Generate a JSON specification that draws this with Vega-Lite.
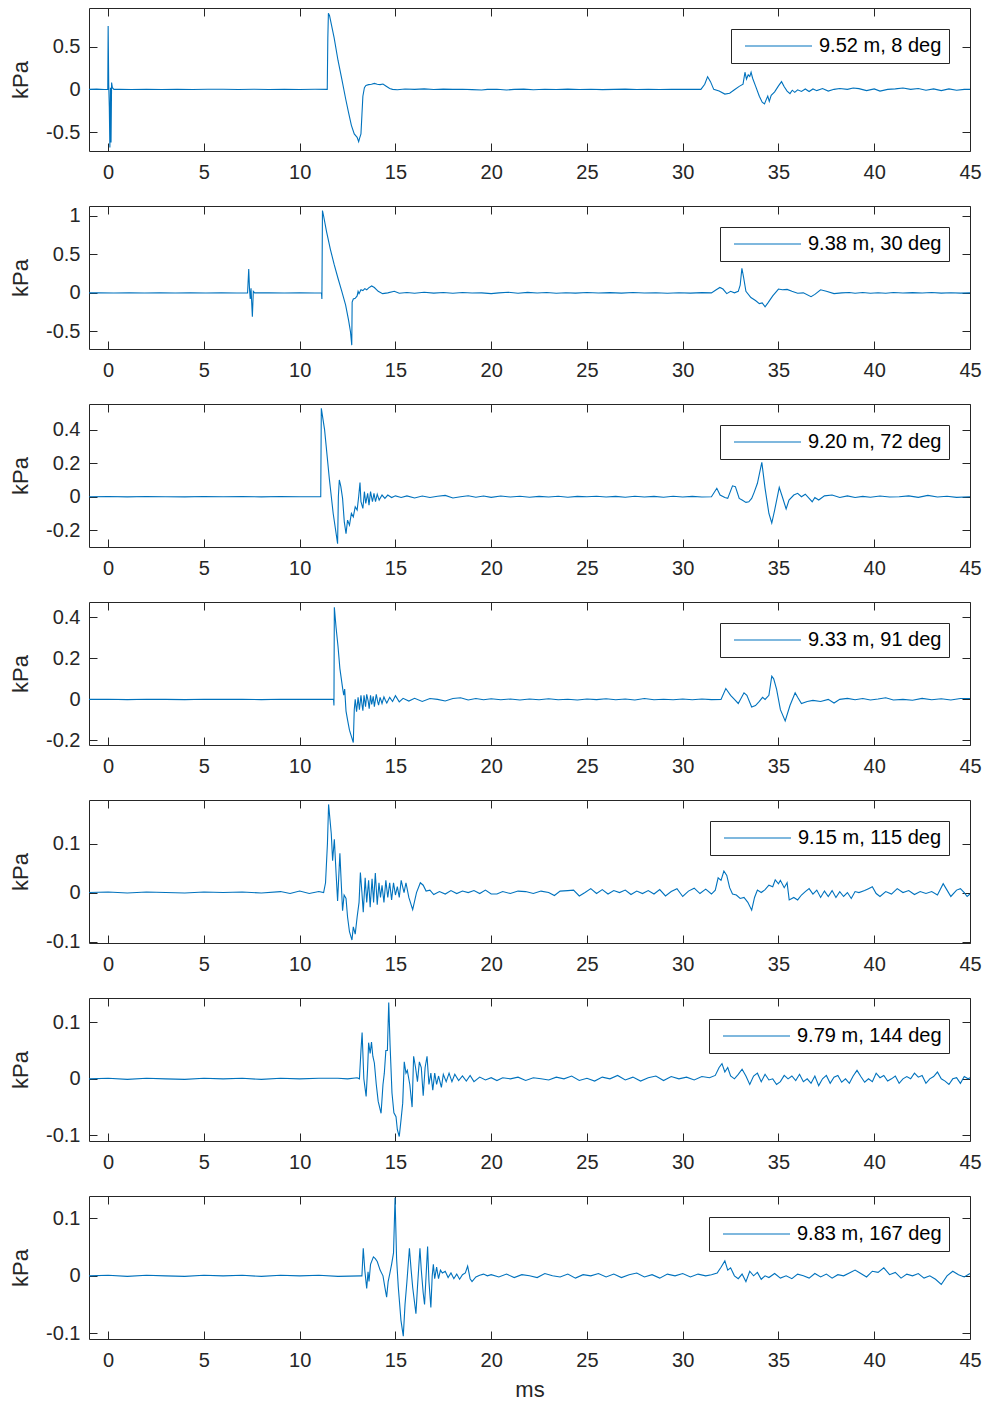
{
  "$schema": "https://vega.github.io/schema/vega-lite/v6.json",
  "padding": {"left": 9, "top": 7, "right": 4, "bottom": 4},
  "spacing": 55,
  "bounds": "flush",
  "config": {
    "font": "Liberation Sans",
    "view": {"stroke": "#262626", "strokeWidth": 1},
    "axis": {
      "domain": false, "grid": false, "labelFlush": false,
      "tickColor": "#262626", "tickSize": -8, "tickWidth": 1,
      "labelFont": "Liberation Sans", "labelFontSize": 20, "labelColor": "#262626",
      "titleFont": "Liberation Sans", "titleFontSize": 22, "titleFontWeight": "normal", "titleColor": "#262626",
      "labelExpr": "replace(format(datum.value, '~g'), '\u2212', '-')"
    },
    "axisX": {"labelPadding": 19, "titlePadding": 9},
    "axisY": {"labelPadding": 17, "titlePadding": 13},
    "legend": {
      "orient": "top-right", "offset": 21, "padding": 7,
      "strokeColor": "#262626", "fillColor": "white", "cornerRadius": 0,
      "symbolType": "stroke", "symbolSize": 4489, "symbolStrokeWidth": 1.5, "symbolStrokeColor": "#0072BD",
      "clipHeight": 20, "symbolOffset": 6, "labelOffset": 6,
      "labelFont": "Liberation Sans", "labelFontSize": 20, "labelColor": "#000000"
    },
    "line": {"strokeWidth": 1.1, "clip": true}
  },
  "resolve": {"scale": {"color": "independent"}, "legend": {"color": "independent"}},
  "datasets": {
    "s1": [
      {"t":-1,"p":0},{"t":-0.6,"p":0.003},{"t":-0.2,"p":-0.002},{"t":-0.02,"p":0},{"t":0.0,"p":0.74},{"t":0.03,"p":0.05},{"t":0.06,"p":-0.2},{"t":0.09,"p":-0.68},{"t":0.12,"p":0.02},{"t":0.15,"p":-0.62},{"t":0.18,"p":0.08},{"t":0.22,"p":0.02},{"t":0.3,"p":0},{"t":0.6,"p":0.002},{"t":1.2,"p":-0.002},{"t":2,"p":0.002},{"t":2.8,"p":-0.001},{"t":3.6,"p":0.002},{"t":4.4,"p":-0.002},{"t":5.2,"p":0.001},{"t":6,"p":0.002},{"t":6.8,"p":-0.002},{"t":7.6,"p":0.001},{"t":8.4,"p":-0.001},{"t":9.2,"p":0.002},{"t":10,"p":-0.001},{"t":10.8,"p":0.001},{"t":11.44,"p":0},{"t":11.47,"p":0.6},{"t":11.5,"p":0.89},{"t":11.56,"p":0.86},{"t":11.8,"p":0.6},{"t":12.0,"p":0.34},{"t":12.2,"p":0.12},{"t":12.4,"p":-0.11},{"t":12.55,"p":-0.27},{"t":12.7,"p":-0.42},{"t":12.85,"p":-0.52},{"t":13.0,"p":-0.56},{"t":13.08,"p":-0.61},{"t":13.13,"p":-0.57},{"t":13.2,"p":-0.52},{"t":13.25,"p":-0.3},{"t":13.3,"p":-0.08},{"t":13.38,"p":0.02},{"t":13.46,"p":0.045},{"t":13.6,"p":0.055},{"t":13.75,"p":0.06},{"t":13.9,"p":0.07},{"t":14.05,"p":0.06},{"t":14.2,"p":0.055},{"t":14.35,"p":0.062},{"t":14.5,"p":0.04},{"t":14.7,"p":0.01},{"t":14.85,"p":0},{"t":15.1,"p":-0.005},{"t":15.5,"p":0.004},{"t":16,"p":0},{"t":16.5,"p":0.005},{"t":17,"p":-0.002},{"t":17.5,"p":0.003},{"t":18,"p":0},{"t":18.5,"p":0.002},{"t":19,"p":-0.003},{"t":19.5,"p":-0.008},{"t":19.8,"p":0},{"t":20.3,"p":0.002},{"t":20.8,"p":-0.008},{"t":21.2,"p":0},{"t":21.7,"p":0.003},{"t":22.2,"p":-0.004},{"t":22.8,"p":0.002},{"t":23.4,"p":-0.002},{"t":24,"p":0.003},{"t":24.6,"p":-0.001},{"t":25.2,"p":0.002},{"t":25.8,"p":-0.003},{"t":26.4,"p":0},{"t":27,"p":0.003},{"t":27.6,"p":-0.002},{"t":28.2,"p":0.002},{"t":28.8,"p":-0.001},{"t":29.4,"p":0.002},{"t":30,"p":0},{"t":30.6,"p":0.002},{"t":30.95,"p":0},{"t":31.15,"p":0.06},{"t":31.3,"p":0.148},{"t":31.45,"p":0.09},{"t":31.62,"p":0},{"t":31.9,"p":-0.02},{"t":32.2,"p":-0.055},{"t":32.45,"p":-0.045},{"t":32.7,"p":-0.005},{"t":32.95,"p":0.035},{"t":33.15,"p":0.06},{"t":33.25,"p":0.2},{"t":33.33,"p":0.12},{"t":33.42,"p":0.17},{"t":33.5,"p":0.15},{"t":33.57,"p":0.2},{"t":33.65,"p":0.13},{"t":33.8,"p":0.04},{"t":34.0,"p":-0.08},{"t":34.15,"p":-0.15},{"t":34.27,"p":-0.17},{"t":34.36,"p":-0.12},{"t":34.44,"p":-0.08},{"t":34.52,"p":-0.14},{"t":34.62,"p":-0.07},{"t":34.8,"p":-0.03},{"t":35.0,"p":0.04},{"t":35.16,"p":0.09},{"t":35.3,"p":0.03},{"t":35.45,"p":-0.02},{"t":35.6,"p":-0.05},{"t":35.72,"p":-0.01},{"t":35.85,"p":-0.035},{"t":36.0,"p":-0.005},{"t":36.2,"p":-0.025},{"t":36.4,"p":0.005},{"t":36.6,"p":-0.025},{"t":36.8,"p":0.005},{"t":37.0,"p":-0.015},{"t":37.3,"p":0.01},{"t":37.6,"p":-0.02},{"t":37.9,"p":0},{"t":38.2,"p":0.01},{"t":38.6,"p":0},{"t":38.9,"p":0.015},{"t":39.2,"p":0.008},{"t":39.6,"p":-0.015},{"t":40.0,"p":0.005},{"t":40.3,"p":-0.02},{"t":40.7,"p":0},{"t":41.1,"p":0.005},{"t":41.5,"p":0.015},{"t":41.9,"p":0},{"t":42.3,"p":0.01},{"t":42.7,"p":-0.01},{"t":43.1,"p":0.005},{"t":43.5,"p":-0.015},{"t":43.9,"p":0.005},{"t":44.3,"p":-0.01},{"t":44.7,"p":0},{"t":45,"p":0}
    ],
    "s2": [
      {"t":-1,"p":0},{"t":-0.5,"p":0.002},{"t":0.3,"p":-0.002},{"t":1.1,"p":0.001},{"t":1.9,"p":-0.001},{"t":2.7,"p":0.002},{"t":3.5,"p":-0.002},{"t":4.3,"p":0.001},{"t":5.1,"p":-0.001},{"t":5.9,"p":0.002},{"t":6.7,"p":-0.001},{"t":7.28,"p":0},{"t":7.34,"p":0.31},{"t":7.38,"p":0.05},{"t":7.42,"p":-0.08},{"t":7.46,"p":0.06},{"t":7.53,"p":-0.31},{"t":7.58,"p":0.02},{"t":7.65,"p":0},{"t":8.4,"p":0.002},{"t":9.2,"p":-0.002},{"t":10,"p":0.001},{"t":10.8,"p":-0.001},{"t":11.14,"p":0},{"t":11.16,"p":-0.08},{"t":11.19,"p":1.07},{"t":11.25,"p":1.0},{"t":11.4,"p":0.8},{"t":11.6,"p":0.57},{"t":11.8,"p":0.37},{"t":12.0,"p":0.19},{"t":12.2,"p":0.02},{"t":12.4,"p":-0.16},{"t":12.55,"p":-0.35},{"t":12.65,"p":-0.5},{"t":12.72,"p":-0.68},{"t":12.74,"p":-0.12},{"t":12.8,"p":-0.08},{"t":12.9,"p":-0.07},{"t":13.0,"p":-0.04},{"t":13.05,"p":0.02},{"t":13.1,"p":-0.01},{"t":13.2,"p":0.04},{"t":13.3,"p":0.03},{"t":13.4,"p":0.055},{"t":13.5,"p":0.04},{"t":13.6,"p":0.065},{"t":13.76,"p":0.09},{"t":13.9,"p":0.07},{"t":14.1,"p":0.02},{"t":14.33,"p":-0.01},{"t":14.6,"p":0},{"t":14.94,"p":0.02},{"t":15.2,"p":-0.005},{"t":15.6,"p":0.005},{"t":16,"p":-0.005},{"t":16.5,"p":0.008},{"t":17,"p":-0.003},{"t":17.5,"p":0.005},{"t":18,"p":-0.005},{"t":18.5,"p":0.004},{"t":19,"p":-0.002},{"t":19.5,"p":0},{"t":20,"p":-0.01},{"t":20.4,"p":0},{"t":20.9,"p":0.008},{"t":21.4,"p":-0.004},{"t":21.9,"p":0.006},{"t":22.4,"p":-0.002},{"t":22.9,"p":0.004},{"t":23.4,"p":-0.004},{"t":23.9,"p":0.002},{"t":24.4,"p":-0.003},{"t":25,"p":0.004},{"t":25.6,"p":-0.002},{"t":26.2,"p":0.003},{"t":26.8,"p":-0.003},{"t":27.4,"p":0.004},{"t":28,"p":-0.002},{"t":28.6,"p":0.002},{"t":29.2,"p":-0.004},{"t":29.8,"p":0.002},{"t":30.4,"p":-0.003},{"t":31,"p":0.003},{"t":31.5,"p":0},{"t":31.75,"p":0.04},{"t":31.94,"p":0.07},{"t":32.1,"p":0.05},{"t":32.3,"p":-0.01},{"t":32.5,"p":0.02},{"t":32.7,"p":0},{"t":32.9,"p":0.02},{"t":33.0,"p":0.1},{"t":33.09,"p":0.32},{"t":33.18,"p":0.2},{"t":33.3,"p":0.02},{"t":33.56,"p":-0.06},{"t":33.8,"p":-0.1},{"t":34.0,"p":-0.14},{"t":34.15,"p":-0.13},{"t":34.3,"p":-0.18},{"t":34.45,"p":-0.13},{"t":34.7,"p":-0.04},{"t":35.0,"p":0.05},{"t":35.2,"p":0.04},{"t":35.45,"p":0.045},{"t":35.7,"p":0.02},{"t":36.0,"p":-0.005},{"t":36.3,"p":0},{"t":36.7,"p":-0.05},{"t":36.9,"p":-0.02},{"t":37.2,"p":0.04},{"t":37.5,"p":0.02},{"t":37.9,"p":-0.01},{"t":38.3,"p":0},{"t":38.7,"p":0.005},{"t":39.0,"p":-0.005},{"t":39.4,"p":0.005},{"t":39.8,"p":-0.005},{"t":40.2,"p":0.002},{"t":40.6,"p":-0.004},{"t":41.0,"p":0.005},{"t":41.5,"p":-0.002},{"t":42.0,"p":0.003},{"t":42.5,"p":-0.002},{"t":43.0,"p":0.005},{"t":43.5,"p":-0.003},{"t":44.0,"p":0.002},{"t":44.5,"p":-0.003},{"t":45,"p":0}
    ],
    "s3": [
      {"t":-1,"p":0},{"t":0,"p":0.001},{"t":1,"p":-0.001},{"t":2,"p":0.001},{"t":3,"p":0},{"t":4,"p":-0.001},{"t":5,"p":0.001},{"t":6,"p":0},{"t":7,"p":0.001},{"t":8,"p":-0.001},{"t":9,"p":0.001},{"t":10,"p":0},{"t":11.1,"p":0},{"t":11.13,"p":0.527},{"t":11.3,"p":0.4},{"t":11.55,"p":0.106},{"t":11.75,"p":-0.1},{"t":11.98,"p":-0.28},{"t":12.02,"p":0},{"t":12.07,"p":0.1},{"t":12.15,"p":0.06},{"t":12.24,"p":-0.01},{"t":12.33,"p":-0.15},{"t":12.42,"p":-0.22},{"t":12.5,"p":-0.14},{"t":12.6,"p":-0.17},{"t":12.7,"p":-0.1},{"t":12.8,"p":-0.12},{"t":12.9,"p":-0.06},{"t":13.0,"p":-0.08},{"t":13.08,"p":0},{"t":13.15,"p":0.085},{"t":13.2,"p":-0.03},{"t":13.3,"p":-0.07},{"t":13.38,"p":0.03},{"t":13.45,"p":-0.04},{"t":13.55,"p":0.02},{"t":13.62,"p":-0.05},{"t":13.7,"p":0.03},{"t":13.8,"p":-0.03},{"t":13.88,"p":0.02},{"t":13.96,"p":-0.03},{"t":14.05,"p":0.015},{"t":14.15,"p":-0.02},{"t":14.3,"p":0.01},{"t":14.45,"p":-0.01},{"t":14.6,"p":0.01},{"t":14.8,"p":-0.005},{"t":15.0,"p":0.005},{"t":15.3,"p":-0.005},{"t":15.6,"p":0.005},{"t":16,"p":-0.008},{"t":16.4,"p":0.004},{"t":16.8,"p":-0.005},{"t":17.2,"p":0.003},{"t":17.6,"p":0.008},{"t":18,"p":-0.008},{"t":18.4,"p":0},{"t":18.8,"p":0.006},{"t":19.2,"p":-0.003},{"t":19.6,"p":0.004},{"t":20,"p":-0.004},{"t":20.5,"p":0.004},{"t":21,"p":-0.002},{"t":21.5,"p":0.003},{"t":22,"p":-0.003},{"t":22.5,"p":0.002},{"t":23,"p":-0.002},{"t":23.5,"p":0.003},{"t":24,"p":-0.003},{"t":24.5,"p":0.002},{"t":25,"p":0},{"t":25.5,"p":0.003},{"t":26,"p":-0.002},{"t":26.5,"p":0.002},{"t":27,"p":-0.003},{"t":27.5,"p":0.003},{"t":28,"p":-0.002},{"t":28.5,"p":0.002},{"t":29,"p":-0.003},{"t":29.5,"p":0.003},{"t":30,"p":-0.002},{"t":30.5,"p":0.002},{"t":31,"p":-0.002},{"t":31.5,"p":0},{"t":31.78,"p":0.05},{"t":31.95,"p":0.01},{"t":32.2,"p":-0.005},{"t":32.35,"p":-0.01},{"t":32.6,"p":0.065},{"t":32.75,"p":0.06},{"t":32.95,"p":-0.01},{"t":33.1,"p":-0.02},{"t":33.3,"p":-0.034},{"t":33.45,"p":-0.03},{"t":33.6,"p":-0.01},{"t":33.73,"p":0.026},{"t":33.9,"p":0.08},{"t":34.13,"p":0.205},{"t":34.3,"p":0.05},{"t":34.5,"p":-0.1},{"t":34.65,"p":-0.157},{"t":34.8,"p":-0.08},{"t":35.04,"p":0.056},{"t":35.2,"p":0},{"t":35.4,"p":-0.073},{"t":35.55,"p":-0.02},{"t":35.8,"p":0.01},{"t":36.0,"p":0.02},{"t":36.2,"p":0},{"t":36.4,"p":0.015},{"t":36.6,"p":-0.01},{"t":36.76,"p":-0.03},{"t":36.9,"p":-0.005},{"t":37.1,"p":-0.02},{"t":37.4,"p":0.005},{"t":37.8,"p":0.01},{"t":38.2,"p":-0.005},{"t":38.6,"p":0.005},{"t":39.0,"p":-0.005},{"t":39.4,"p":0.002},{"t":39.8,"p":-0.003},{"t":40.3,"p":0.004},{"t":40.8,"p":-0.002},{"t":41.3,"p":0},{"t":41.8,"p":0.005},{"t":42.3,"p":-0.004},{"t":42.8,"p":0.008},{"t":43.3,"p":-0.002},{"t":43.8,"p":0.003},{"t":44.3,"p":-0.004},{"t":45,"p":0}
    ],
    "s4": [
      {"t":-1,"p":0},{"t":0,"p":0.001},{"t":1,"p":-0.001},{"t":2,"p":0.001},{"t":3,"p":0},{"t":4,"p":-0.001},{"t":5,"p":0.001},{"t":6,"p":0},{"t":7,"p":0.001},{"t":8,"p":-0.001},{"t":9,"p":0.001},{"t":10,"p":0},{"t":11,"p":0.001},{"t":11.77,"p":0},{"t":11.79,"p":-0.03},{"t":11.81,"p":0.448},{"t":11.9,"p":0.35},{"t":12.0,"p":0.26},{"t":12.1,"p":0.15},{"t":12.24,"p":0.056},{"t":12.3,"p":0.02},{"t":12.35,"p":0.05},{"t":12.42,"p":-0.057},{"t":12.5,"p":-0.1},{"t":12.6,"p":-0.15},{"t":12.7,"p":-0.18},{"t":12.8,"p":-0.21},{"t":12.85,"p":-0.05},{"t":12.9,"p":0},{"t":12.97,"p":-0.06},{"t":13.05,"p":0.01},{"t":13.12,"p":-0.05},{"t":13.2,"p":0.02},{"t":13.26,"p":-0.03},{"t":13.3,"p":-0.055},{"t":13.36,"p":0.02},{"t":13.44,"p":-0.035},{"t":13.5,"p":0.025},{"t":13.58,"p":-0.01},{"t":13.63,"p":-0.045},{"t":13.7,"p":0.02},{"t":13.76,"p":-0.025},{"t":13.84,"p":0.015},{"t":13.9,"p":-0.035},{"t":14.0,"p":0.025},{"t":14.07,"p":-0.01},{"t":14.12,"p":-0.028},{"t":14.2,"p":0.01},{"t":14.3,"p":-0.02},{"t":14.4,"p":0.012},{"t":14.48,"p":-0.005},{"t":14.55,"p":-0.018},{"t":14.7,"p":0.01},{"t":14.85,"p":-0.01},{"t":15.0,"p":0.018},{"t":15.2,"p":-0.012},{"t":15.4,"p":0.005},{"t":15.7,"p":-0.008},{"t":16,"p":0.005},{"t":16.4,"p":-0.01},{"t":16.8,"p":0.004},{"t":17.2,"p":0},{"t":17.6,"p":-0.008},{"t":18,"p":0.004},{"t":18.4,"p":0.008},{"t":18.8,"p":-0.003},{"t":19.2,"p":0.004},{"t":19.6,"p":-0.002},{"t":20,"p":0.003},{"t":20.5,"p":-0.002},{"t":21,"p":0.002},{"t":21.5,"p":-0.003},{"t":22,"p":0.002},{"t":22.5,"p":-0.002},{"t":23,"p":0.003},{"t":23.5,"p":-0.002},{"t":24,"p":0.001},{"t":24.5,"p":-0.003},{"t":25,"p":0.002},{"t":25.5,"p":-0.001},{"t":26,"p":0.003},{"t":26.5,"p":-0.002},{"t":27,"p":0.002},{"t":27.5,"p":-0.003},{"t":28,"p":0.004},{"t":28.5,"p":-0.002},{"t":29,"p":0.001},{"t":29.5,"p":-0.002},{"t":30,"p":0.002},{"t":30.5,"p":-0.002},{"t":31,"p":0.002},{"t":31.5,"p":-0.001},{"t":32.0,"p":0},{"t":32.25,"p":0.053},{"t":32.5,"p":0.02},{"t":32.7,"p":0},{"t":32.9,"p":-0.02},{"t":33.2,"p":0.032},{"t":33.35,"p":0.02},{"t":33.6,"p":-0.037},{"t":33.8,"p":-0.03},{"t":34.0,"p":-0.01},{"t":34.17,"p":0.01},{"t":34.3,"p":0},{"t":34.5,"p":0.02},{"t":34.65,"p":0.113},{"t":34.75,"p":0.1},{"t":34.9,"p":0.05},{"t":35.1,"p":-0.05},{"t":35.35,"p":-0.105},{"t":35.6,"p":-0.03},{"t":35.87,"p":0.032},{"t":36.0,"p":0.01},{"t":36.2,"p":-0.02},{"t":36.5,"p":-0.01},{"t":36.8,"p":-0.005},{"t":37.2,"p":-0.01},{"t":37.6,"p":0},{"t":37.9,"p":-0.018},{"t":38.2,"p":0},{"t":38.6,"p":0.005},{"t":39,"p":-0.002},{"t":39.4,"p":0.004},{"t":39.8,"p":-0.003},{"t":40.2,"p":0.002},{"t":40.6,"p":0.008},{"t":41,"p":-0.003},{"t":41.5,"p":0},{"t":42,"p":-0.004},{"t":42.5,"p":0.005},{"t":43,"p":-0.002},{"t":43.5,"p":0.003},{"t":44,"p":-0.003},{"t":44.5,"p":0.004},{"t":45,"p":0.004}
    ],
    "s5": [
      {"t":-1,"p":0},{"t":0,"p":0.001},{"t":1,"p":-0.001},{"t":2,"p":0.001},{"t":3,"p":0},{"t":4,"p":-0.001},{"t":5,"p":0.001},{"t":6,"p":0},{"t":7,"p":0.001},{"t":8,"p":-0.001},{"t":9,"p":0.002},{"t":9.5,"p":-0.002},{"t":10,"p":0.003},{"t":10.5,"p":-0.002},{"t":11.0,"p":0.002},{"t":11.25,"p":0},{"t":11.35,"p":0.02},{"t":11.45,"p":0.1},{"t":11.51,"p":0.18},{"t":11.58,"p":0.15},{"t":11.65,"p":0.12},{"t":11.72,"p":0.065},{"t":11.81,"p":0.109},{"t":11.9,"p":0.04},{"t":11.98,"p":-0.017},{"t":12.05,"p":0.04},{"t":12.1,"p":0.08},{"t":12.17,"p":0.02},{"t":12.24,"p":-0.037},{"t":12.32,"p":-0.005},{"t":12.42,"p":-0.012},{"t":12.5,"p":-0.05},{"t":12.6,"p":-0.08},{"t":12.73,"p":-0.097},{"t":12.8,"p":-0.07},{"t":12.9,"p":-0.085},{"t":13.0,"p":-0.05},{"t":13.1,"p":-0.02},{"t":13.17,"p":0.041},{"t":13.25,"p":0},{"t":13.32,"p":-0.04},{"t":13.42,"p":0.03},{"t":13.5,"p":-0.02},{"t":13.6,"p":0.025},{"t":13.68,"p":-0.03},{"t":13.78,"p":0.028},{"t":13.86,"p":-0.02},{"t":13.95,"p":0.04},{"t":14.05,"p":-0.025},{"t":14.14,"p":0.02},{"t":14.22,"p":-0.01},{"t":14.3,"p":0.015},{"t":14.4,"p":-0.02},{"t":14.5,"p":0.025},{"t":14.6,"p":-0.01},{"t":14.7,"p":0.02},{"t":14.8,"p":-0.015},{"t":14.9,"p":0.02},{"t":15.0,"p":-0.005},{"t":15.1,"p":0.012},{"t":15.2,"p":-0.01},{"t":15.3,"p":0.025},{"t":15.45,"p":0},{"t":15.55,"p":0.02},{"t":15.7,"p":-0.01},{"t":15.9,"p":-0.035},{"t":16.1,"p":0},{"t":16.3,"p":0.02},{"t":16.45,"p":0.015},{"t":16.6,"p":0.003},{"t":16.8,"p":0.005},{"t":17.0,"p":-0.004},{"t":17.3,"p":0.002},{"t":17.6,"p":-0.003},{"t":17.9,"p":0.004},{"t":18.2,"p":-0.002},{"t":18.5,"p":0.003},{"t":18.8,"p":0},{"t":19.1,"p":0.004},{"t":19.4,"p":-0.002},{"t":19.7,"p":0.005},{"t":20.0,"p":-0.003},{"t":20.3,"p":-0.003},{"t":20.6,"p":0.002},{"t":21.0,"p":-0.002},{"t":21.4,"p":0.003},{"t":21.8,"p":0.002},{"t":22.2,"p":-0.002},{"t":22.6,"p":0.003},{"t":23.0,"p":0},{"t":23.3,"p":-0.006},{"t":23.6,"p":0.003},{"t":24.0,"p":0.004},{"t":24.3,"p":0.005},{"t":24.6,"p":-0.007},{"t":24.9,"p":0},{"t":25.2,"p":0.008},{"t":25.5,"p":-0.002},{"t":25.8,"p":0.006},{"t":26.1,"p":-0.003},{"t":26.4,"p":0.004},{"t":26.7,"p":0},{"t":27.0,"p":0.005},{"t":27.3,"p":-0.004},{"t":27.6,"p":0.003},{"t":27.9,"p":-0.002},{"t":28.2,"p":0.004},{"t":28.5,"p":-0.003},{"t":28.8,"p":0.006},{"t":29.1,"p":-0.007},{"t":29.4,"p":0.002},{"t":29.7,"p":0.008},{"t":30.0,"p":-0.008},{"t":30.3,"p":0.003},{"t":30.6,"p":0.009},{"t":30.9,"p":-0.002},{"t":31.2,"p":0.007},{"t":31.5,"p":-0.003},{"t":31.7,"p":0.005},{"t":31.85,"p":0.03},{"t":32.0,"p":0.025},{"t":32.15,"p":0.044},{"t":32.3,"p":0.035},{"t":32.45,"p":0.01},{"t":32.6,"p":-0.003},{"t":32.8,"p":-0.005},{"t":33.0,"p":-0.012},{"t":33.2,"p":-0.01},{"t":33.4,"p":-0.02},{"t":33.6,"p":-0.036},{"t":33.75,"p":-0.01},{"t":33.9,"p":0.005},{"t":34.1,"p":0},{"t":34.3,"p":0.006},{"t":34.5,"p":0.015},{"t":34.7,"p":0.012},{"t":34.83,"p":0.026},{"t":35.0,"p":0.018},{"t":35.1,"p":0.025},{"t":35.3,"p":0.01},{"t":35.45,"p":0.02},{"t":35.56,"p":-0.015},{"t":35.8,"p":-0.01},{"t":36.0,"p":-0.015},{"t":36.2,"p":-0.005},{"t":36.4,"p":0.002},{"t":36.6,"p":0.008},{"t":36.8,"p":-0.003},{"t":37.0,"p":0.005},{"t":37.2,"p":-0.01},{"t":37.4,"p":0.003},{"t":37.6,"p":-0.008},{"t":37.8,"p":0.004},{"t":38.0,"p":-0.01},{"t":38.2,"p":0.002},{"t":38.4,"p":-0.008},{"t":38.6,"p":0},{"t":38.8,"p":-0.012},{"t":39.0,"p":0.002},{"t":39.2,"p":0},{"t":39.5,"p":0.004},{"t":39.7,"p":0.008},{"t":39.9,"p":0.012},{"t":40.1,"p":-0.002},{"t":40.3,"p":-0.008},{"t":40.6,"p":0.002},{"t":40.9,"p":-0.003},{"t":41.2,"p":0.008},{"t":41.5,"p":0},{"t":41.8,"p":0.004},{"t":42.1,"p":-0.004},{"t":42.4,"p":0.002},{"t":42.7,"p":-0.002},{"t":43.0,"p":0.002},{"t":43.3,"p":-0.005},{"t":43.6,"p":0.018},{"t":43.8,"p":0.005},{"t":44.0,"p":-0.008},{"t":44.3,"p":0.005},{"t":44.5,"p":0.008},{"t":44.7,"p":0},{"t":44.85,"p":-0.008},{"t":45,"p":-0.003}
    ],
    "s6": [
      {"t":-1,"p":0},{"t":0,"p":0.001},{"t":1,"p":-0.001},{"t":2,"p":0.001},{"t":3,"p":0},{"t":4,"p":-0.001},{"t":5,"p":0.001},{"t":6,"p":0},{"t":7,"p":0.001},{"t":8,"p":-0.001},{"t":9,"p":0.001},{"t":10,"p":0},{"t":11,"p":0.001},{"t":12.0,"p":0.001},{"t":12.5,"p":0},{"t":13.0,"p":0.002},{"t":13.12,"p":0},{"t":13.2,"p":0.05},{"t":13.26,"p":0.082},{"t":13.35,"p":0},{"t":13.47,"p":-0.031},{"t":13.55,"p":0.02},{"t":13.6,"p":0.064},{"t":13.68,"p":0.045},{"t":13.75,"p":0.065},{"t":13.82,"p":0.04},{"t":13.9,"p":0.028},{"t":14.0,"p":-0.01},{"t":14.1,"p":-0.04},{"t":14.25,"p":-0.061},{"t":14.35,"p":-0.01},{"t":14.42,"p":0.01},{"t":14.5,"p":0.05},{"t":14.58,"p":0.05},{"t":14.65,"p":0.135},{"t":14.72,"p":0.06},{"t":14.82,"p":-0.025},{"t":14.92,"p":-0.06},{"t":15.03,"p":-0.067},{"t":15.1,"p":-0.09},{"t":15.2,"p":-0.102},{"t":15.3,"p":-0.07},{"t":15.38,"p":-0.043},{"t":15.46,"p":0.03},{"t":15.55,"p":0.01},{"t":15.62,"p":0.015},{"t":15.75,"p":-0.01},{"t":15.87,"p":-0.05},{"t":15.95,"p":0.04},{"t":16.05,"p":0.02},{"t":16.15,"p":-0.005},{"t":16.25,"p":0.03},{"t":16.35,"p":0.02},{"t":16.45,"p":-0.03},{"t":16.55,"p":0.02},{"t":16.65,"p":0.04},{"t":16.75,"p":-0.01},{"t":16.85,"p":0.01},{"t":16.95,"p":-0.02},{"t":17.05,"p":0.01},{"t":17.15,"p":-0.01},{"t":17.25,"p":0.005},{"t":17.4,"p":-0.015},{"t":17.5,"p":0.008},{"t":17.65,"p":-0.005},{"t":17.8,"p":0.01},{"t":17.95,"p":-0.005},{"t":18.1,"p":0.008},{"t":18.3,"p":-0.003},{"t":18.5,"p":0.005},{"t":18.7,"p":-0.004},{"t":18.9,"p":0.006},{"t":19.1,"p":-0.005},{"t":19.4,"p":0.003},{"t":19.7,"p":-0.002},{"t":20.0,"p":0.002},{"t":20.3,"p":-0.003},{"t":20.6,"p":0.002},{"t":21,"p":0},{"t":21.4,"p":0.003},{"t":21.8,"p":-0.003},{"t":22.2,"p":0.002},{"t":22.6,"p":0},{"t":23,"p":-0.002},{"t":23.4,"p":0.003},{"t":23.8,"p":0},{"t":24.2,"p":0.005},{"t":24.6,"p":-0.003},{"t":25,"p":0.001},{"t":25.4,"p":-0.004},{"t":25.8,"p":0.003},{"t":26.2,"p":0},{"t":26.6,"p":0.006},{"t":27,"p":-0.002},{"t":27.4,"p":0.003},{"t":27.8,"p":-0.004},{"t":28.2,"p":0.002},{"t":28.6,"p":0.005},{"t":29,"p":-0.003},{"t":29.4,"p":0.004},{"t":29.8,"p":0},{"t":30.2,"p":0.003},{"t":30.6,"p":-0.002},{"t":31,"p":0.004},{"t":31.4,"p":0.002},{"t":31.7,"p":0.006},{"t":31.9,"p":0.02},{"t":32.05,"p":0.027},{"t":32.2,"p":0.012},{"t":32.35,"p":0.02},{"t":32.5,"p":0.005},{"t":32.7,"p":0},{"t":32.9,"p":0.008},{"t":33.1,"p":0.017},{"t":33.3,"p":0.005},{"t":33.5,"p":-0.01},{"t":33.7,"p":0.005},{"t":33.9,"p":0.01},{"t":34.1,"p":-0.005},{"t":34.3,"p":0.008},{"t":34.5,"p":-0.002},{"t":34.7,"p":0},{"t":34.9,"p":-0.01},{"t":35.1,"p":-0.005},{"t":35.3,"p":0.006},{"t":35.5,"p":0},{"t":35.7,"p":0.005},{"t":35.9,"p":-0.003},{"t":36.1,"p":0.008},{"t":36.3,"p":-0.005},{"t":36.5,"p":0},{"t":36.7,"p":-0.008},{"t":36.9,"p":0.005},{"t":37.1,"p":-0.012},{"t":37.3,"p":0},{"t":37.5,"p":0.006},{"t":37.7,"p":-0.008},{"t":37.9,"p":0.003},{"t":38.1,"p":0.006},{"t":38.3,"p":-0.006},{"t":38.5,"p":0},{"t":38.7,"p":-0.008},{"t":38.9,"p":0.005},{"t":39.1,"p":0.015},{"t":39.3,"p":0.004},{"t":39.5,"p":-0.006},{"t":39.7,"p":0},{"t":39.9,"p":-0.005},{"t":40.1,"p":0.01},{"t":40.3,"p":0.002},{"t":40.5,"p":0.006},{"t":40.7,"p":-0.004},{"t":40.9,"p":0},{"t":41.1,"p":0.005},{"t":41.3,"p":-0.008},{"t":41.5,"p":0},{"t":41.7,"p":0.004},{"t":41.9,"p":0},{"t":42.1,"p":0.01},{"t":42.3,"p":0.003},{"t":42.5,"p":0.006},{"t":42.7,"p":-0.008},{"t":42.9,"p":0},{"t":43.1,"p":0.004},{"t":43.3,"p":0.012},{"t":43.5,"p":0},{"t":43.7,"p":-0.004},{"t":43.9,"p":-0.01},{"t":44.1,"p":0},{"t":44.3,"p":0.002},{"t":44.5,"p":-0.008},{"t":44.7,"p":0.004},{"t":44.9,"p":0},{"t":45,"p":0.002}
    ],
    "s7": [
      {"t":-1,"p":0},{"t":0,"p":0.001},{"t":1,"p":-0.001},{"t":2,"p":0.001},{"t":3,"p":0},{"t":4,"p":-0.001},{"t":5,"p":0.001},{"t":6,"p":0},{"t":7,"p":0.001},{"t":8,"p":-0.001},{"t":9,"p":0.001},{"t":10,"p":0},{"t":11,"p":0.001},{"t":12,"p":-0.001},{"t":13.2,"p":0},{"t":13.25,"p":0},{"t":13.32,"p":0.048},{"t":13.4,"p":0.01},{"t":13.5,"p":-0.022},{"t":13.57,"p":0.007},{"t":13.62,"p":-0.01},{"t":13.7,"p":0.02},{"t":13.85,"p":0.033},{"t":13.95,"p":0.03},{"t":14.05,"p":0.025},{"t":14.2,"p":0.01},{"t":14.35,"p":0},{"t":14.45,"p":-0.02},{"t":14.54,"p":-0.037},{"t":14.62,"p":-0.01},{"t":14.7,"p":0.003},{"t":14.8,"p":0.02},{"t":14.9,"p":0.04},{"t":14.98,"p":0.136},{"t":15.06,"p":0.03},{"t":15.15,"p":-0.02},{"t":15.29,"p":-0.078},{"t":15.41,"p":-0.105},{"t":15.5,"p":-0.05},{"t":15.6,"p":-0.01},{"t":15.73,"p":0.048},{"t":15.82,"p":0.01},{"t":15.9,"p":-0.02},{"t":16.07,"p":-0.066},{"t":16.15,"p":-0.02},{"t":16.28,"p":0.048},{"t":16.35,"p":0.01},{"t":16.45,"p":-0.03},{"t":16.52,"p":-0.05},{"t":16.6,"p":0},{"t":16.68,"p":0.051},{"t":16.75,"p":-0.01},{"t":16.85,"p":-0.055},{"t":16.92,"p":0},{"t":16.98,"p":0.02},{"t":17.05,"p":-0.005},{"t":17.15,"p":0.015},{"t":17.25,"p":-0.005},{"t":17.35,"p":0.01},{"t":17.45,"p":0.005},{"t":17.6,"p":0.008},{"t":17.75,"p":-0.003},{"t":17.9,"p":0.005},{"t":18.05,"p":-0.005},{"t":18.2,"p":0.003},{"t":18.35,"p":-0.006},{"t":18.5,"p":0.002},{"t":18.65,"p":0.005},{"t":18.77,"p":0.017},{"t":18.9,"p":-0.005},{"t":19.0,"p":-0.01},{"t":19.2,"p":-0.002},{"t":19.4,"p":0.001},{"t":19.6,"p":0.003},{"t":19.8,"p":0},{"t":20,"p":0.002},{"t":20.4,"p":-0.002},{"t":20.8,"p":0.003},{"t":21.2,"p":-0.003},{"t":21.6,"p":0.002},{"t":22,"p":0},{"t":22.4,"p":-0.003},{"t":22.8,"p":0.004},{"t":23.2,"p":0},{"t":23.6,"p":-0.002},{"t":24,"p":0.003},{"t":24.4,"p":-0.004},{"t":24.8,"p":0.002},{"t":25.2,"p":0},{"t":25.6,"p":0.004},{"t":26,"p":-0.002},{"t":26.4,"p":0.003},{"t":26.8,"p":-0.003},{"t":27.2,"p":0.002},{"t":27.6,"p":0.005},{"t":28,"p":-0.002},{"t":28.4,"p":0.002},{"t":28.8,"p":-0.004},{"t":29.2,"p":0.003},{"t":29.6,"p":0},{"t":30,"p":0.004},{"t":30.4,"p":-0.002},{"t":30.8,"p":0.003},{"t":31.2,"p":0},{"t":31.5,"p":0.002},{"t":31.8,"p":0.005},{"t":32.0,"p":0.015},{"t":32.2,"p":0.026},{"t":32.35,"p":0.01},{"t":32.5,"p":0.014},{"t":32.7,"p":0},{"t":32.9,"p":-0.005},{"t":33.1,"p":0.003},{"t":33.3,"p":-0.01},{"t":33.5,"p":0.008},{"t":33.7,"p":0},{"t":33.9,"p":0.006},{"t":34.1,"p":-0.006},{"t":34.3,"p":0},{"t":34.5,"p":-0.003},{"t":34.8,"p":0.004},{"t":35.1,"p":-0.004},{"t":35.4,"p":0},{"t":35.7,"p":-0.005},{"t":36.0,"p":0.003},{"t":36.3,"p":0},{"t":36.6,"p":-0.004},{"t":36.9,"p":0.004},{"t":37.2,"p":-0.002},{"t":37.5,"p":0.003},{"t":37.8,"p":-0.004},{"t":38.1,"p":0.002},{"t":38.4,"p":0},{"t":38.7,"p":0.005},{"t":39.0,"p":0.01},{"t":39.3,"p":0.004},{"t":39.6,"p":-0.002},{"t":39.9,"p":0.008},{"t":40.2,"p":0.006},{"t":40.5,"p":0.014},{"t":40.8,"p":0.002},{"t":41.1,"p":0.006},{"t":41.4,"p":-0.004},{"t":41.7,"p":0.003},{"t":42.0,"p":0},{"t":42.3,"p":0.004},{"t":42.6,"p":-0.004},{"t":42.9,"p":0},{"t":43.2,"p":-0.006},{"t":43.5,"p":-0.015},{"t":43.8,"p":0},{"t":44.1,"p":0.008},{"t":44.4,"p":0.002},{"t":44.7,"p":-0.002},{"t":45,"p":0.004}
    ]
  },
  "vconcat": [
    {
      "width": 881, "height": 143,
      "data": {"name": "s1"},
      "layer": [
        {"mark": "line", "encoding": {
          "x": {"field": "t", "type": "quantitative", "scale": {"domain": [-1, 45], "nice": false, "zero": false}, "axis": {"values": [0,5,10,15,20,25,30,35,40,45], "title": null}},
          "y": {"field": "p", "type": "quantitative", "scale": {"domain": [-0.72, 0.95], "nice": false, "zero": false}, "axis": {"values": [-0.5,0,0.5], "title": "kPa"}},
          "color": {"datum": "9.52 m, 8 deg", "type": "nominal", "scale": {"range": ["#0072BD"]}, "legend": {"title": null}}
        }},
        {"mark": {"type": "line", "opacity": 0}, "encoding": {
          "x": {"field": "t", "type": "quantitative", "scale": {"domain": [-1, 45], "nice": false, "zero": false}, "axis": {"orient": "top", "values": [0,5,10,15,20,25,30,35,40,45], "labels": false, "title": null}},
          "y": {"field": "p", "type": "quantitative", "scale": {"domain": [-0.72, 0.95], "nice": false, "zero": false}, "axis": {"orient": "right", "values": [-0.5,0,0.5], "labels": false, "title": null}}
        }}
      ],
      "resolve": {"axis": {"x": "independent", "y": "independent"}}
    },
    {
      "width": 881, "height": 143,
      "data": {"name": "s2"},
      "layer": [
        {"mark": "line", "encoding": {
          "x": {"field": "t", "type": "quantitative", "scale": {"domain": [-1, 45], "nice": false, "zero": false}, "axis": {"values": [0,5,10,15,20,25,30,35,40,45], "title": null}},
          "y": {"field": "p", "type": "quantitative", "scale": {"domain": [-0.73, 1.13], "nice": false, "zero": false}, "axis": {"values": [-0.5,0,0.5,1], "title": "kPa"}},
          "color": {"datum": "9.38 m, 30 deg", "type": "nominal", "scale": {"range": ["#0072BD"]}, "legend": {"title": null}}
        }},
        {"mark": {"type": "line", "opacity": 0}, "encoding": {
          "x": {"field": "t", "type": "quantitative", "scale": {"domain": [-1, 45], "nice": false, "zero": false}, "axis": {"orient": "top", "values": [0,5,10,15,20,25,30,35,40,45], "labels": false, "title": null}},
          "y": {"field": "p", "type": "quantitative", "scale": {"domain": [-0.73, 1.13], "nice": false, "zero": false}, "axis": {"orient": "right", "values": [-0.5,0,0.5,1], "labels": false, "title": null}}
        }}
      ],
      "resolve": {"axis": {"x": "independent", "y": "independent"}}
    },
    {
      "width": 881, "height": 143,
      "data": {"name": "s3"},
      "layer": [
        {"mark": "line", "encoding": {
          "x": {"field": "t", "type": "quantitative", "scale": {"domain": [-1, 45], "nice": false, "zero": false}, "axis": {"values": [0,5,10,15,20,25,30,35,40,45], "title": null}},
          "y": {"field": "p", "type": "quantitative", "scale": {"domain": [-0.3, 0.553], "nice": false, "zero": false}, "axis": {"values": [-0.2,0,0.2,0.4], "title": "kPa"}},
          "color": {"datum": "9.20 m, 72 deg", "type": "nominal", "scale": {"range": ["#0072BD"]}, "legend": {"title": null}}
        }},
        {"mark": {"type": "line", "opacity": 0}, "encoding": {
          "x": {"field": "t", "type": "quantitative", "scale": {"domain": [-1, 45], "nice": false, "zero": false}, "axis": {"orient": "top", "values": [0,5,10,15,20,25,30,35,40,45], "labels": false, "title": null}},
          "y": {"field": "p", "type": "quantitative", "scale": {"domain": [-0.3, 0.553], "nice": false, "zero": false}, "axis": {"orient": "right", "values": [-0.2,0,0.2,0.4], "labels": false, "title": null}}
        }}
      ],
      "resolve": {"axis": {"x": "independent", "y": "independent"}}
    },
    {
      "width": 881, "height": 143,
      "data": {"name": "s4"},
      "layer": [
        {"mark": "line", "encoding": {
          "x": {"field": "t", "type": "quantitative", "scale": {"domain": [-1, 45], "nice": false, "zero": false}, "axis": {"values": [0,5,10,15,20,25,30,35,40,45], "title": null}},
          "y": {"field": "p", "type": "quantitative", "scale": {"domain": [-0.222, 0.474], "nice": false, "zero": false}, "axis": {"values": [-0.2,0,0.2,0.4], "title": "kPa"}},
          "color": {"datum": "9.33 m, 91 deg", "type": "nominal", "scale": {"range": ["#0072BD"]}, "legend": {"title": null}}
        }},
        {"mark": {"type": "line", "opacity": 0}, "encoding": {
          "x": {"field": "t", "type": "quantitative", "scale": {"domain": [-1, 45], "nice": false, "zero": false}, "axis": {"orient": "top", "values": [0,5,10,15,20,25,30,35,40,45], "labels": false, "title": null}},
          "y": {"field": "p", "type": "quantitative", "scale": {"domain": [-0.222, 0.474], "nice": false, "zero": false}, "axis": {"orient": "right", "values": [-0.2,0,0.2,0.4], "labels": false, "title": null}}
        }}
      ],
      "resolve": {"axis": {"x": "independent", "y": "independent"}}
    },
    {
      "width": 881, "height": 143,
      "data": {"name": "s5"},
      "layer": [
        {"mark": "line", "encoding": {
          "x": {"field": "t", "type": "quantitative", "scale": {"domain": [-1, 45], "nice": false, "zero": false}, "axis": {"values": [0,5,10,15,20,25,30,35,40,45], "title": null}},
          "y": {"field": "p", "type": "quantitative", "scale": {"domain": [-0.103, 0.189], "nice": false, "zero": false}, "axis": {"values": [-0.1,0,0.1], "title": "kPa"}},
          "color": {"datum": "9.15 m, 115 deg", "type": "nominal", "scale": {"range": ["#0072BD"]}, "legend": {"title": null}}
        }},
        {"mark": {"type": "line", "opacity": 0}, "encoding": {
          "x": {"field": "t", "type": "quantitative", "scale": {"domain": [-1, 45], "nice": false, "zero": false}, "axis": {"orient": "top", "values": [0,5,10,15,20,25,30,35,40,45], "labels": false, "title": null}},
          "y": {"field": "p", "type": "quantitative", "scale": {"domain": [-0.103, 0.189], "nice": false, "zero": false}, "axis": {"orient": "right", "values": [-0.1,0,0.1], "labels": false, "title": null}}
        }}
      ],
      "resolve": {"axis": {"x": "independent", "y": "independent"}}
    },
    {
      "width": 881, "height": 143,
      "data": {"name": "s6"},
      "layer": [
        {"mark": "line", "encoding": {
          "x": {"field": "t", "type": "quantitative", "scale": {"domain": [-1, 45], "nice": false, "zero": false}, "axis": {"values": [0,5,10,15,20,25,30,35,40,45], "title": null}},
          "y": {"field": "p", "type": "quantitative", "scale": {"domain": [-0.11, 0.143], "nice": false, "zero": false}, "axis": {"values": [-0.1,0,0.1], "title": "kPa"}},
          "color": {"datum": "9.79 m, 144 deg", "type": "nominal", "scale": {"range": ["#0072BD"]}, "legend": {"title": null}}
        }},
        {"mark": {"type": "line", "opacity": 0}, "encoding": {
          "x": {"field": "t", "type": "quantitative", "scale": {"domain": [-1, 45], "nice": false, "zero": false}, "axis": {"orient": "top", "values": [0,5,10,15,20,25,30,35,40,45], "labels": false, "title": null}},
          "y": {"field": "p", "type": "quantitative", "scale": {"domain": [-0.11, 0.143], "nice": false, "zero": false}, "axis": {"orient": "right", "values": [-0.1,0,0.1], "labels": false, "title": null}}
        }}
      ],
      "resolve": {"axis": {"x": "independent", "y": "independent"}}
    },
    {
      "width": 881, "height": 143,
      "data": {"name": "s7"},
      "layer": [
        {"mark": "line", "encoding": {
          "x": {"field": "t", "type": "quantitative", "scale": {"domain": [-1, 45], "nice": false, "zero": false}, "axis": {"values": [0,5,10,15,20,25,30,35,40,45], "title": "ms"}},
          "y": {"field": "p", "type": "quantitative", "scale": {"domain": [-0.11, 0.139], "nice": false, "zero": false}, "axis": {"values": [-0.1,0,0.1], "title": "kPa"}},
          "color": {"datum": "9.83 m, 167 deg", "type": "nominal", "scale": {"range": ["#0072BD"]}, "legend": {"title": null}}
        }},
        {"mark": {"type": "line", "opacity": 0}, "encoding": {
          "x": {"field": "t", "type": "quantitative", "scale": {"domain": [-1, 45], "nice": false, "zero": false}, "axis": {"orient": "top", "values": [0,5,10,15,20,25,30,35,40,45], "labels": false, "title": null}},
          "y": {"field": "p", "type": "quantitative", "scale": {"domain": [-0.11, 0.139], "nice": false, "zero": false}, "axis": {"orient": "right", "values": [-0.1,0,0.1], "labels": false, "title": null}}
        }}
      ],
      "resolve": {"axis": {"x": "independent", "y": "independent"}}
    }
  ]
}
